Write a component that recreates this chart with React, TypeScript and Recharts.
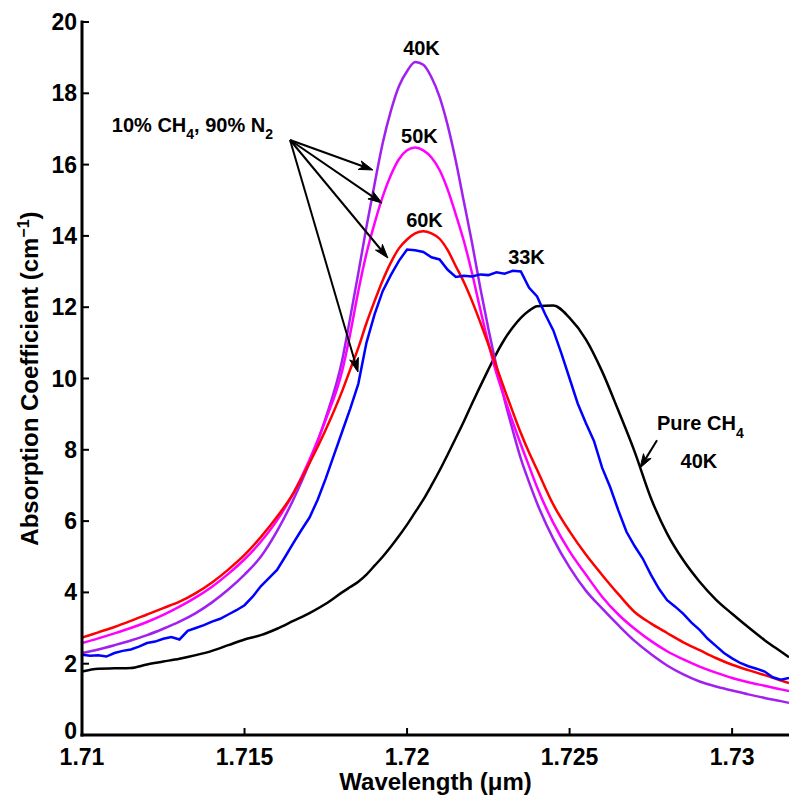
import { LineChart, Line, XAxis, YAxis, ReferenceLine, ReferenceDot } from 'recharts';

const FONT = '"Liberation Sans", Arial, Helvetica, sans-serif';

// wavelength grid (um) for the smooth curves, finer around the peaks
const wl = [
  1.71, 1.7105, 1.711, 1.7115, 1.712, 1.7125, 1.713, 1.7135, 1.714, 1.7145, 1.715, 1.7155, 1.716, 1.7165, 1.717, 1.7175, 1.718,
  1.71825, 1.7185, 1.71875, 1.719, 1.71925, 1.7195, 1.71975, 1.72, 1.72025, 1.7205, 1.72075, 1.721, 1.72125, 1.7215, 1.72175,
  1.722, 1.72225, 1.7225, 1.72275, 1.723, 1.72325, 1.7235, 1.72375, 1.724,
  1.7245, 1.725, 1.7255, 1.726, 1.7265, 1.727, 1.7275, 1.728, 1.7285, 1.729, 1.7295, 1.73, 1.7305, 1.731, 1.7315, 1.73175,
];

// 10% CH4 / 90% N2 at 40K, 50K, 60K
const k40 = [
  2.3, 2.4, 2.52, 2.65, 2.8, 2.98, 3.18, 3.42, 3.72, 4.08, 4.5, 5.0, 5.72, 6.6, 7.64, 8.9, 10.5,
  11.7, 12.95, 14.25, 15.45, 16.6, 17.5, 18.2, 18.62, 18.88, 18.8, 18.45, 17.9, 17.1, 16.1, 14.95,
  13.8, 12.55, 11.4, 10.35, 9.4, 8.55, 7.75, 7.1, 6.5,
  5.5, 4.7, 4.05, 3.55, 3.08, 2.64, 2.27, 1.95, 1.7, 1.5, 1.36, 1.25, 1.14, 1.04, 0.95, 0.9,
];
const k50 = [
  2.58, 2.71, 2.85, 3.0, 3.17, 3.37, 3.6, 3.86, 4.16, 4.52, 4.93, 5.42, 6.02, 6.78, 7.72, 8.85, 10.2,
  11.25, 12.45, 13.5, 14.35, 15.1, 15.7, 16.15, 16.4, 16.48, 16.4, 16.2, 15.85, 15.3, 14.6, 13.85,
  12.95, 11.95, 11.0, 10.15, 9.45, 8.78, 8.15, 7.55, 6.95,
  5.95, 5.15, 4.5, 3.88, 3.38, 2.98, 2.64, 2.35, 2.12, 1.92, 1.75, 1.6, 1.48, 1.38, 1.28, 1.23,
];
const k60 = [
  2.73, 2.88, 3.03, 3.2, 3.38, 3.56, 3.74, 3.98, 4.28, 4.64, 5.05, 5.55, 6.12, 6.78, 7.63, 8.57, 9.64,
  10.25, 10.86, 11.55, 12.17, 12.75, 13.25, 13.65, 13.9, 14.07, 14.13, 14.07, 13.92, 13.6, 13.15, 12.7,
  12.17, 11.58, 10.96, 10.33, 9.69, 9.07, 8.47, 7.93, 7.44,
  6.46, 5.71, 5.06, 4.49, 3.95, 3.45, 3.13, 2.86, 2.6, 2.38, 2.16, 1.97, 1.82, 1.68, 1.53, 1.46,
];
// pure CH4 at 40K
const pure40 = [
  1.78, 1.86, 1.87, 1.88, 1.98, 2.06, 2.14, 2.24, 2.36, 2.52, 2.68, 2.8, 2.98, 3.2, 3.42, 3.68, 4.0,
  4.15, 4.3, 4.5, 4.75, 5.0, 5.28, 5.58, 5.9, 6.25, 6.6, 7.0, 7.42, 7.87, 8.33, 8.8,
  9.3, 9.78, 10.25, 10.7, 11.1, 11.43, 11.7, 11.9, 12.03,
  12.05, 11.7, 11.1, 10.2, 9.1, 7.95, 6.65, 5.65, 4.9, 4.3, 3.8, 3.4, 3.02, 2.66, 2.34, 2.18,
];

// 33K measurement, finer grid
const wlBlue = [
  1.71, 1.71025, 1.7105, 1.71075, 1.711, 1.71125, 1.7115, 1.71175, 1.712, 1.71225, 1.7125, 1.71275, 1.713, 1.71325, 1.7135, 1.71375,
  1.714, 1.71425, 1.7145, 1.71475, 1.715, 1.71525, 1.7155, 1.71575, 1.716, 1.71625, 1.7165, 1.71675, 1.717, 1.71725, 1.7175, 1.71775,
  1.718, 1.71825, 1.7185, 1.71875, 1.719, 1.71925, 1.7195, 1.71975, 1.72, 1.72025, 1.7205, 1.72075, 1.721, 1.72125, 1.7215, 1.72175,
  1.722, 1.72225, 1.7225, 1.72275, 1.723, 1.72325, 1.7235, 1.72375, 1.724, 1.72425, 1.7245, 1.72475, 1.725, 1.72525, 1.7255, 1.72575,
  1.726, 1.72625, 1.7265, 1.72675, 1.727, 1.72725, 1.7275, 1.72775, 1.728, 1.72825, 1.7285, 1.72875, 1.729, 1.72925, 1.7295, 1.72975,
  1.73, 1.73025, 1.7305, 1.73075, 1.731, 1.73125, 1.7315, 1.73175,
];
const k33 = [
  2.25, 2.22, 2.24, 2.2, 2.3, 2.36, 2.4, 2.48, 2.58, 2.62, 2.7, 2.75, 2.68, 2.92, 3.0, 3.08,
  3.18, 3.26, 3.38, 3.5, 3.64, 3.88, 4.17, 4.4, 4.63, 5.0, 5.38, 5.75, 6.1, 6.6, 7.2, 7.85,
  8.5, 9.15, 9.85, 11.0, 11.8, 12.45, 12.9, 13.3, 13.62, 13.6, 13.55, 13.4, 13.34, 13.05, 12.85, 12.88,
  12.86, 12.92, 12.9, 12.98, 12.94, 13.02, 13.0, 12.55, 12.3, 11.8, 11.35, 10.7, 10.0, 9.3, 8.75, 8.25,
  7.5, 6.95, 6.3, 5.7, 5.3, 4.95, 4.5, 4.1, 3.78, 3.6, 3.4, 3.15, 2.95, 2.7, 2.5, 2.3,
  2.15, 2.02, 1.93, 1.86, 1.78, 1.62, 1.55, 1.6,
];

const xTicks = [1.71, 1.715, 1.72, 1.725, 1.73];
const yTicks = [0, 2, 4, 6, 8, 10, 12, 14, 16, 18, 20];

const d40 = wl.map((w, i) => ({ w, v: k40[i] }));
const d50 = wl.map((w, i) => ({ w, v: k50[i] }));
const d60 = wl.map((w, i) => ({ w, v: k60[i] }));
const dPure = wl.map((w, i) => ({ w, v: pure40[i] }));
const d33 = wlBlue.map((w, i) => ({ w, v: k33[i] }));

const txt = { fontFamily: FONT, fontWeight: 'bold' as const, fill: '#000' };

const BottomTick = (p: any) => (
  <g>
    <line x1={p.x} y1={p.y} x2={p.x} y2={p.y - 7} stroke="#000" strokeWidth={2} />
    <text x={p.x} y={p.y + 29.5} textAnchor="middle" fontSize={23} {...txt}>{p.payload.value}</text>
  </g>
);
const TopTick = (p: any) => <line x1={p.x} y1={p.y} x2={p.x} y2={p.y + 7} stroke="#000" strokeWidth={2} />;
const LeftTick = (p: any) => (
  <g>
    <line x1={p.x} y1={p.y} x2={p.x + 7} y2={p.y} stroke="#000" strokeWidth={2} />
    {/* the 0 label sits a touch higher so it clears the 1.71 tick label */}
    <text x={p.x - 5} y={p.y + (p.payload.value === 0 ? 3.5 : 8)} textAnchor="end" fontSize={23} {...txt}>
      {p.payload.value}
    </text>
  </g>
);

const XLabel = () => (
  <text x={435.5} y={790} textAnchor="middle" fontSize={24} {...txt}>Wavelength (μm)</text>
);
const YLabel = () => (
  <text x={37.5} y={378.5} transform="rotate(-90 37.5 378.5)" textAnchor="middle" fontSize={24} {...txt}>
    Absorption Coefficient (cm<tspan dy={-9} fontSize={16}>−1</tspan><tspan dy={9}>)</tspan>
  </text>
);

const Arrow = (p: any) => {
  const { x1, y1, x2, y2 } = p;
  const dx = x2 - x1;
  const dy = y2 - y1;
  const len = Math.hypot(dx, dy) || 1;
  const ux = dx / len, uy = dy / len;
  const nx = -uy, ny = ux;
  const L = 14, W = 4.5;
  const bx = x2 - ux * L, by = y2 - uy * L;
  const mx = x2 - ux * L * 0.72, my = y2 - uy * L * 0.72;
  return (
    <g>
      <line x1={x1} y1={y1} x2={mx} y2={my} stroke="#000" strokeWidth={2} />
      <polygon
        points={`${x2},${y2} ${bx + nx * W},${by + ny * W} ${mx},${my} ${bx - nx * W},${by - ny * W}`}
        fill="#000"
        stroke="#000"
        strokeWidth={1}
      />
    </g>
  );
};

const note = (body: any, anchor: 'start' | 'middle' = 'middle') => (p: any) => (
  <text x={p.cx} y={p.cy} textAnchor={anchor} fontSize={20} {...txt}>{body}</text>
);

const arrowFrom = { x: 1.7164, y: 16.69 };

export default function App() {
  return (
    <div style={{ position: 'absolute', left: 0, top: 0, background: '#fff' }}>
      <LineChart width={789} height={795} margin={{ top: 22, right: 0, bottom: 0, left: 0 }}>
        <XAxis
          dataKey="w"
          type="number"
          domain={[1.71, 1.73175]}
          ticks={xTicks}
          interval={0}
          allowDataOverflow
          height={60}
          tickSize={0}
          tickMargin={0}
          tickLine={false}
          axisLine={{ stroke: '#000', strokeWidth: 3, strokeLinecap: 'square' }}
          tick={BottomTick}
          label={XLabel}
        />
        <XAxis
          xAxisId="top"
          orientation="top"
          dataKey="w"
          type="number"
          domain={[1.71, 1.73175]}
          ticks={xTicks}
          interval={0}
          allowDataOverflow
          height={0}
          tickSize={0}
          tickMargin={0}
          tickLine={false}
          axisLine={{ stroke: '#000', strokeWidth: 3, strokeLinecap: 'square' }}
          tick={TopTick}
        />
        <YAxis
          type="number"
          domain={[0, 20]}
          ticks={yTicks}
          interval={0}
          width={82}
          tickSize={0}
          tickMargin={0}
          tickLine={false}
          axisLine={{ stroke: '#000', strokeWidth: 3, strokeLinecap: 'square' }}
          tick={LeftTick}
          label={YLabel}
        />
        <Line data={dPure} dataKey="v" type="monotone" stroke="#000000" strokeWidth={2.5} dot={false} isAnimationActive={false} />
        <Line data={d40} dataKey="v" type="monotone" stroke="#A020F0" strokeWidth={2.5} dot={false} isAnimationActive={false} />
        <Line data={d50} dataKey="v" type="monotone" stroke="#FF00FF" strokeWidth={2.5} dot={false} isAnimationActive={false} />
        <Line data={d60} dataKey="v" type="monotone" stroke="#FF0000" strokeWidth={2.5} dot={false} isAnimationActive={false} />
        <Line data={d33} dataKey="v" type="linear" stroke="#0000FF" strokeWidth={2.5} dot={false} isAnimationActive={false} />

        <ReferenceLine segment={[arrowFrom, { x: 1.71895, y: 15.85 }]} shape={Arrow} />
        <ReferenceLine segment={[arrowFrom, { x: 1.71923, y: 14.92 }]} shape={Arrow} />
        <ReferenceLine segment={[arrowFrom, { x: 1.71941, y: 13.38 }]} shape={Arrow} />
        <ReferenceLine segment={[arrowFrom, { x: 1.71849, y: 10.18 }]} shape={Arrow} />
        <ReferenceLine segment={[{ x: 1.72769, y: 8.27 }, { x: 1.727166, y: 7.49 }]} shape={Arrow} />

        <ReferenceDot x={1.720444} y={19.07} r={1} shape={note('40K')} />
        <ReferenceDot x={1.720382} y={16.61} r={1} shape={note('50K')} />
        <ReferenceDot x={1.720536} y={14.25} r={1} shape={note('60K')} />
        <ReferenceDot x={1.723674} y={13.21} r={1} shape={note('33K')} />
        <ReferenceDot x={1.72898} y={7.49} r={1} shape={note('40K')} />
        <ReferenceDot
          x={1.710917}
          y={16.92}
          r={1}
          shape={note(
            <>
              10% CH<tspan dy={7} fontSize={14}>4</tspan>
              <tspan dy={-7}>, 90% N</tspan>
              <tspan dy={7} fontSize={14}>2</tspan>
            </>,
            'start'
          )}
        />
        <ReferenceDot
          x={1.727689}
          y={8.56}
          r={1}
          shape={note(
            <>
              Pure CH<tspan dy={8} fontSize={14}>4</tspan>
            </>,
            'start'
          )}
        />
      </LineChart>
    </div>
  );
}
